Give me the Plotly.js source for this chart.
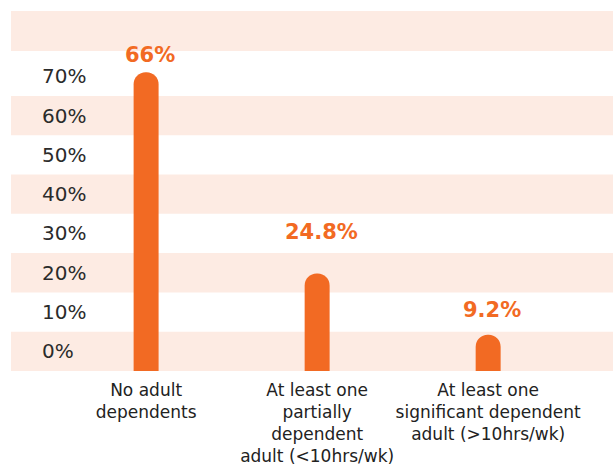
<!DOCTYPE html>
<html>
<head>
<meta charset="utf-8">
<script src="https://cdn.plot.ly/plotly-3.0.1.min.js"></script>
<style>html,body{margin:0;padding:0;background:#fff;}#chart{width:613px;height:466px;}</style>
</head>
<body>
<div id="chart"></div>
<script>
// ---- data ----
const categories = [
  "No adult<br>dependents",
  "At least one<br>partially<br>dependent<br>adult (&lt;10hrs/wk)",
  "At least one<br>significant dependent<br>adult (&gt;10hrs/wk)"
];
const shareLabels = ["66%", "24.8%", "9.2%"];          // printed values
const barHeights = [76, 24.8, 9.2];                     // bar lengths as drawn in the picture (%)
const tickValues = [0, 10, 20, 30, 40, 50, 60, 70];     // y tick labels (drawn mid-band)
const tickLabels = tickValues.map(v => v + "%");

// ---- styles ----
const orange = "#F26A23";
const peach = "#FDEBE3";
const labelLift = [3, 28, 11];
const yMax = 91.6;

const bandShapes = [];
for (let b = 0; b < 80; b += 20) {
  bandShapes.push({
    type: "rect", layer: "below", xref: "paper", x0: 0, x1: 1,
    yref: "y", y0: b, y1: b + 10,
    fillcolor: peach, line: {width: 0}
  });
}
bandShapes.push({
  type: "rect", layer: "below", xref: "paper", x0: 0, x1: 1,
  yref: "y", y0: yMax - 10.2, y1: yMax, fillcolor: peach, line: {width: 0}
});

const trace = {
  type: "bar",
  x: categories,
  y: barHeights,
  width: 0.146,
  marker: {color: orange, cornerradius: 13},
  hoverinfo: "skip"
};

const annotations = categories.map((c, i) => ({
  x: c, y: barHeights[i], xref: "x", yref: "y",
  text: shareLabels[i], showarrow: false,
  yanchor: "bottom", xanchor: "center", yshift: labelLift[i], xshift: 4,
  font: {family: "DejaVu Sans", size: 21, color: orange, weight: 700}
}));

const layout = {
  width: 613, height: 466,
  margin: {l: 11, r: 0, t: 11, b: 95},
  paper_bgcolor: "#ffffff", plot_bgcolor: "#ffffff",
  showlegend: false,
  shapes: bandShapes,
  annotations: annotations,
  font: {family: "DejaVu Sans", color: "#222"},
  xaxis: {
    type: "category",
    range: [-0.79, 2.73],
    showgrid: false, zeroline: false, showline: false, ticks: "",
    tickangle: 0,
    tickfont: {family: "DejaVu Sans", size: 17, color: "#222"},
    ticklabelstandoff: 7,
    fixedrange: true
  },
  yaxis: {
    range: [0, yMax],
    showgrid: false, zeroline: false, showline: false, ticks: "",
    tickmode: "array",
    tickvals: tickValues.map(v => v + 5),
    ticktext: tickLabels,
    ticklabelposition: "inside",
    ticklabelstandoff: 28,
    tickfont: {family: "DejaVu Sans", size: 20, color: "#2b2b2b"},
    fixedrange: true
  }
};

Plotly.newPlot("chart", [trace], layout, {displayModeBar: false, staticPlot: true});
</script>
</body>
</html>
